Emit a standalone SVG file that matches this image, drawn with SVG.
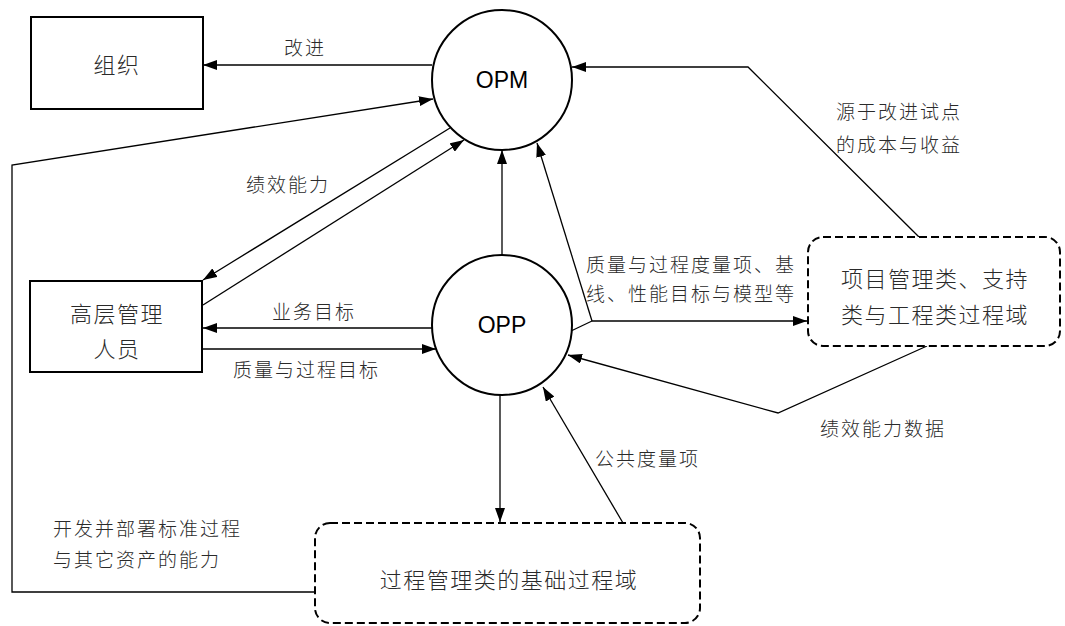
<svg xmlns="http://www.w3.org/2000/svg" width="1065" height="626" viewBox="0 0 1065 626">
<defs>
<marker id="arr" viewBox="0 0 14 10" refX="14" refY="5" markerWidth="14" markerHeight="10" markerUnits="userSpaceOnUse" orient="auto">
<path d="M0,0 L14,5 L0,10 Z" fill="#000"/>
</marker>
<style>
.node{fill:#fff;stroke:#000;stroke-width:2}
.dash{fill:#fff;stroke:#000;stroke-width:2;stroke-dasharray:8 4}
.c{fill:none;stroke:#000;stroke-width:1.3}
.a{marker-end:url(#arr)}
.nt{font-family:"Noto Sans CJK SC","Noto Sans",sans-serif;font-size:22px;font-weight:300;fill:#2a2a2a;letter-spacing:1.5px;text-anchor:middle;dominant-baseline:central}
.lt{font-family:"Noto Sans CJK SC","Noto Sans",sans-serif;font-size:19px;font-weight:300;fill:#2a2a2a;letter-spacing:2px;dominant-baseline:central}
.et{font-family:"Liberation Sans",Arial,sans-serif;font-size:23px;fill:#000;text-anchor:middle;dominant-baseline:central}
</style>
</defs>
<rect width="1065" height="626" fill="#fff"/>
<g id="connectors">
<path class="c a" d="M432,65 L203,65"/>
<path class="c a" d="M919,237 L748,67 L572,67"/>
<path class="c a" d="M450,128 L203,280"/>
<path class="c a" d="M203,305 L464,140"/>
<path class="c a" d="M502,255 L502,150"/>
<path class="c a" d="M432,328 L203,328"/>
<path class="c a" d="M202,349 L436,349"/>
<path class="c" d="M571,331 L592,321"/>
<path class="c a" d="M592,321 L807,321"/>
<path class="c a" d="M592,321 L537,143"/>
<path class="c a" d="M927,346 L778,413 L568,355"/>
<path class="c a" d="M623,523 L543,387"/>
<path class="c a" d="M500,394 L500,522"/>
<path class="c a" d="M315,592 L12,592 L12,165 L433,99"/>
</g>
<g id="n-org"><rect class="node" x="31" y="17" width="172" height="92"/><text class="nt" x="117" y="63">组织</text></g>
<g id="n-opm"><circle class="node" cx="502" cy="80" r="70"/><text class="et" x="502" y="80">OPM</text></g>
<g id="n-mgr"><rect class="node" x="30" y="281" width="172" height="91"/><text class="nt" x="117" y="312">高层管理</text><text class="nt" x="117" y="347">人员</text></g>
<g id="n-opp"><circle class="node" cx="502" cy="325" r="70"/><text class="et" x="502" y="325">OPP</text></g>
<g id="n-proj"><rect class="dash" x="808" y="237" width="252" height="109" rx="15"/><text class="nt" x="935" y="277">项目管理类、支持</text><text class="nt" x="935" y="313">类与工程类过程域</text></g>
<g id="n-proc"><rect class="dash" x="315" y="523" width="385" height="100" rx="15"/><text class="nt" x="509" y="578">过程管理类的基础过程域</text></g>
<g id="labels">
<text class="lt" x="284" y="46">改进</text>
<text class="lt" x="836" y="110">源于改进试点</text>
<text class="lt" x="836" y="143">的成本与收益</text>
<text class="lt" x="246" y="183">绩效能力</text>
<text class="lt" x="272" y="310">业务目标</text>
<text class="lt" x="233" y="368">质量与过程目标</text>
<text class="lt" x="586" y="263">质量与过程度量项、基</text>
<text class="lt" x="586" y="292">线、性能目标与模型等</text>
<text class="lt" x="820" y="427">绩效能力数据</text>
<text class="lt" x="595" y="457">公共度量项</text>
<text class="lt" x="53" y="527">开发并部署标准过程</text>
<text class="lt" x="53" y="558">与其它资产的能力</text>
</g>
</svg>
